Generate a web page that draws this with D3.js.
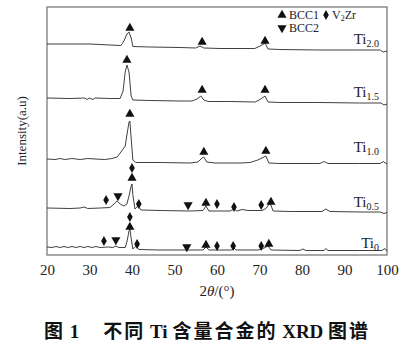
<!DOCTYPE html>
<html>
<head>
<meta charset="utf-8">
<script src="https://cdn.jsdelivr.net/npm/d3@7"></script>
<style>
  body { margin: 0; background: #fff; }
  svg { display: block; }
  .tick text { font-family: "Liberation Serif", serif; font-size: 15px; fill: #222; }
</style>
</head>
<body>
<div id="xrd"></div>
<script>
// 2theta tick labels
const xTicks = [20, 30, 40, 50, 60, 70, 80, 90, 100];

// patterns, [2theta, intensity (a.u., stacked)]
const ti20 = [[20,211],[25.4,211],[30.1,211],[34.8,210],[37.4,209.5],[38.1,214],[38.8,221],[39.3,223],[39.8,217],[40.2,208.5],
  [44.2,208],[51.3,207.5],[55,207],[56,209],[56.9,207],[60.7,206.5],[68.9,206.5],[70.6,210],[71.3,212],[72,206],
  [74.8,205.5],[84.2,205],[93.6,205],[98.4,205],[99.1,203],[100,204]];
const ti15 = [[20,157],[25.4,156.5],[28.9,157],[29.4,155.5],[29.9,157],[30.8,155.5],[31.3,157],[34.8,156.5],[37.2,156.5],[37.9,164],
  [38.4,183],[38.8,190],[39.3,183],[39.8,159],[40.2,155],[44.2,154.5],[51.3,154],[54.1,154],[55.3,156],[56.2,159],
  [56.9,155],[57.9,153.5],[63.1,153.5],[69,153],[70.1,155.5],[71.3,159],[72,153],[74.8,152.5],[84.2,152.5],[93.6,152],
  [98.6,152],[99.3,150],[100,151]];
const ti10 = [[20,96],[21.9,95.5],[23.1,96.5],[24.2,95.5],[25.9,96.5],[27.8,95.5],[29.6,96.5],[31.3,96],[33.6,95.5],[35.3,96.5],
  [36.5,98],[37.4,103],[38.4,109],[38.8,120],[39.3,133],[39.5,134],[39.8,117],[40.2,95],[40.9,92.5],[46.6,92.5],
  [53.6,92],[55.5,93],[56.5,97],[56.9,98],[57.6,93],[59.5,92],[65.4,92],[67.8,92.5],[69.6,95],[71.5,99],
  [72.2,92],[74.8,91.5],[84.2,91.5],[85.2,93.5],[86.1,91.5],[93.6,91.5],[98.4,91.5],[99.1,93.5],[100,91]];
const ti05 = [[20,47],[25.4,46.5],[27.8,47],[28.7,48],[29.6,46.5],[32.5,47],[34.8,47.5],[35.8,51],[36.5,54],[37.2,51],
  [38.1,49],[38.8,51],[39.3,59],[39.8,69],[40,71],[40.2,60],[40.7,46],[41.4,49],[42.1,45],[46.6,44.5],
  [53.6,44],[56.7,44.5],[57.4,49],[58.1,44],[63.1,44],[64,46],[64.7,44],[65.9,45.5],[67.3,44.5],[70.6,44.5],
  [71.5,46.5],[72.5,52],[73.2,44],[77.2,43.5],[84.7,43.5],[85.6,46],[86.6,43.5],[93.6,43],[98.4,43],[99.3,41.5],[100,42.5]];
const ti0 = [[20,8],[21.2,7.5],[22.1,8.5],[23.1,7.5],[24,8.5],[24.9,7.5],[25.9,8.5],[26.8,7.5],[27.8,8.5],[28.7,7.5],
  [29.6,8.5],[30.6,7.5],[31.5,8.5],[32.5,7.5],[34.4,8],[35.5,7.5],[36.2,9],[36.9,7.5],[38.4,7.5],[38.8,13],
  [39.3,24],[39.5,26],[39.8,17],[40.2,6],[40.9,9],[41.6,5.5],[46.6,5],[56.7,5],[57.4,8],[58.1,5],
  [63.5,5],[64,7],[64.5,5],[69.6,5],[70.6,6],[72,9],[72.7,5],[79.5,4.5],[80.2,6],[80.9,4.5],
  [85.2,4.5],[85.6,6.5],[86.1,4.5],[93.6,4.5],[98.8,4.5],[99.5,6.5],[100,4]];

const sampleNames = ['2.0', '1.5', '1.0', '0.5', '0'];
const patterns = [ti20, ti15, ti10, ti05, ti0];

// phase markers, [2theta, intensity]
const bcc1 = [[39.5,227],[56.5,213],[71.3,214],
  [38.8,195],[56.5,165],[71.3,165],
  [39.5,141],[56.9,103],[71.5,104],
  [40,77],[57.4,52],[72.7,53],
  [39.5,28],[57.4,10],[72.2,11]];
const bcc2 = [[36.7,59],[53.2,50],
  [36.2,15],[52.9,8]];
const v2zr = [[33.9,55],[40,87],[41.6,51],[60,51],[64,48],[70.4,50],
  [33.4,14],[39.5,38],[41.2,11],[60,9],[63.8,9],[70.4,9]];

const W = 417, H = 352;
const plot = {left: 47, right: 387, top: 7, bottom: 255};
const serif = '"Liberation Serif", "Times New Roman", serif';
const cjk = '"Noto Sans CJK SC", sans-serif';

const svg = d3.select('#xrd').append('svg')
  .attr('width', W)
  .attr('height', H);

const x = d3.scaleLinear().domain([20, 100]).range([plot.left, plot.right]);
const y = d3.scaleLinear().domain([0, 248]).range([plot.bottom, plot.top]);

// frame
svg.append('rect')
  .attr('x', plot.left).attr('y', plot.top)
  .attr('width', plot.right - plot.left).attr('height', plot.bottom - plot.top)
  .attr('fill', 'none').attr('stroke', '#7a7a7a').attr('stroke-width', 1.3);

const xAxis = svg.append('g')
  .attr('transform', 'translate(0,' + plot.bottom + ')')
  .call(d3.axisBottom(x).tickValues(xTicks).tickSize(0).tickPadding(9));
xAxis.select('.domain').remove();

// curves
const line = d3.line().x(d => x(d[0])).y(d => y(d[1]));
svg.append('g').selectAll('path')
  .data(patterns)
  .enter()
  .append('path')
  .attr('d', line)
  .attr('fill', 'none')
  .attr('stroke', '#2a2a2a')
  .attr('stroke-width', 0.9)
  .attr('stroke-linejoin', 'round');

// markers
const tri = d3.symbol().type(d3.symbolTriangle).size(36);
const dia = d3.symbol().type(d3.symbolDiamond).size(28);
const marks = svg.append('g').attr('fill', '#111');
marks.selectAll('.bcc1').data(bcc1).enter().append('path')
  .attr('d', tri)
  .attr('transform', d => 'translate(' + x(d[0]) + ',' + y(d[1]) + ')');
marks.selectAll('.bcc2').data(bcc2).enter().append('path')
  .attr('d', tri)
  .attr('transform', d => 'translate(' + x(d[0]) + ',' + y(d[1]) + ') rotate(180)');
marks.selectAll('.v2zr').data(v2zr).enter().append('path')
  .attr('d', dia)
  .attr('transform', d => 'translate(' + x(d[0]) + ',' + y(d[1]) + ')');

// sample labels, set above the right end of each curve
const labelLift = [7, 7, 12, 6, 3];
const labels = svg.append('g').selectAll('text')
  .data(sampleNames)
  .enter()
  .append('text')
  .attr('x', 379)
  .attr('y', (d, i) => y(patterns[i][patterns[i].length - 1][1]) - labelLift[i])
  .attr('text-anchor', 'end')
  .attr('font-family', serif)
  .attr('font-size', 15)
  .attr('fill', '#222');
labels.append('tspan').text('Ti');
labels.append('tspan').attr('font-size', 10).attr('dy', 3).text(d => d);

// legend
const legend = svg.append('g').attr('font-family', serif).attr('font-size', 12).attr('fill', '#222');
legend.append('path').attr('d', tri).attr('transform', 'translate(282,15)').attr('fill', '#111');
legend.append('text').attr('x', 289).attr('y', 19).text('BCC1');
legend.append('path').attr('d', dia).attr('transform', 'translate(326,15)').attr('fill', '#111');
const v2 = legend.append('text').attr('x', 332).attr('y', 19);
v2.append('tspan').text('V');
v2.append('tspan').attr('font-size', 8).attr('dy', 2).text('2');
v2.append('tspan').attr('dy', -2).text('Zr');
legend.append('path').attr('d', tri).attr('transform', 'translate(282,28) rotate(180)').attr('fill', '#111');
legend.append('text').attr('x', 289).attr('y', 32).text('BCC2');

// axis titles
svg.append('text')
  .attr('transform', 'translate(26,' + ((plot.top + plot.bottom) / 2) + ') rotate(-90)')
  .attr('text-anchor', 'middle')
  .attr('font-family', serif)
  .attr('font-size', 13)
  .attr('fill', '#222')
  .text('Intensity(a.u)');

const xt = svg.append('text')
  .attr('x', (plot.left + plot.right) / 2)
  .attr('y', 296)
  .attr('text-anchor', 'middle')
  .attr('font-family', serif)
  .attr('font-size', 15)
  .attr('fill', '#222');
xt.append('tspan').text('2');
xt.append('tspan').attr('font-style', 'italic').text('θ');
xt.append('tspan').text('/(°)');

// caption (CJK spaced out, latin kept tight)
const cap = svg.append('text')
  .attr('x', 44)
  .attr('y', 338)
  .attr('font-size', 19)
  .attr('font-weight', 'bold')
  .attr('fill', '#111');
const capParts = [['图', cjk, 0], [' 1', serif, 0], ['不同', cjk, 24], [' Ti ', serif, 0],
  ['含量合金的', cjk, 0], [' XRD ', serif, 0], ['图谱', cjk, 0]];
capParts.forEach(p => {
  cap.append('tspan')
    .attr('font-family', p[1])
    .attr('letter-spacing', p[1] === cjk ? 2 : 0)
    .attr('dx', p[2])
    .text(p[0]);
});
</script>
</body>
</html>
